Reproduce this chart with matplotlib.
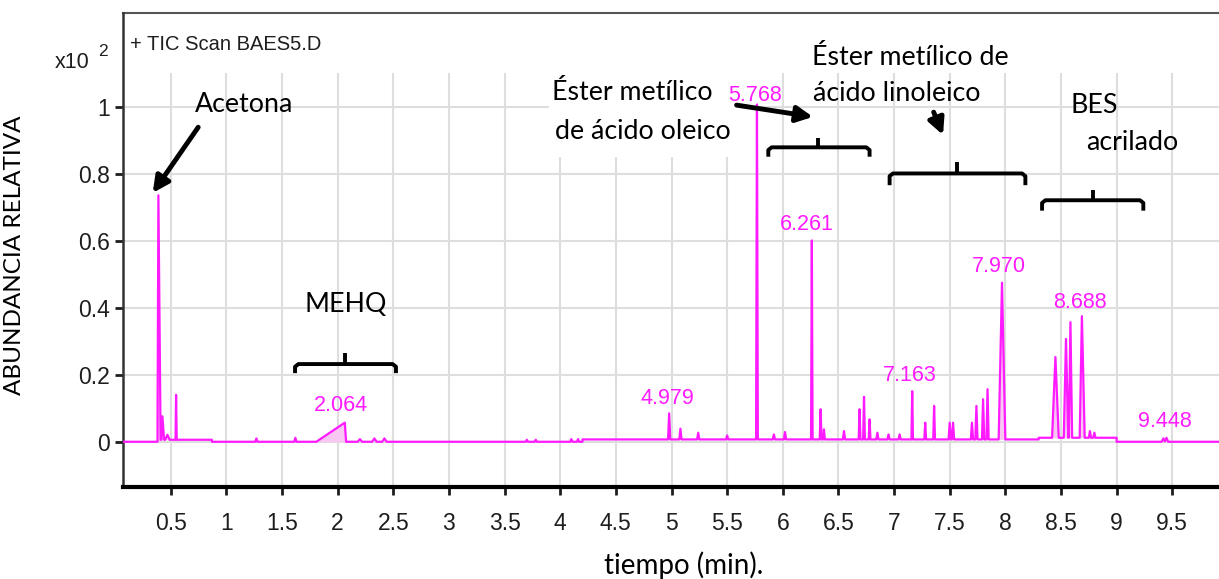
import numpy as np
import matplotlib.pyplot as plt
from matplotlib.patches import Rectangle

plt.rcParams['font.family'] = 'Liberation Sans'

# TIC peaks: retention time (min), abundance (x10^2), left / right half width (min)
peak_rt = [0.389, 0.425, 0.47, 0.548, 1.27, 1.62, 2.064, 2.20, 2.33, 2.42,
           3.70, 3.78, 4.10, 4.16, 4.979, 5.08, 5.24, 5.50, 5.768, 5.92,
           6.02, 6.261, 6.34, 6.37, 6.55, 6.69, 6.73, 6.78, 6.85, 6.95,
           7.05, 7.163, 7.28, 7.36, 7.50, 7.53, 7.70, 7.74, 7.80, 7.84,
           7.970, 8.45, 8.545, 8.585, 8.688, 8.76, 8.80, 9.42, 9.448]
peak_h = [0.736, 0.07, 0.015, 0.134, 0.01, 0.012, 0.057, 0.008, 0.01, 0.01,
          0.006, 0.006, 0.008, 0.008, 0.078, 0.032, 0.02, 0.012, 1.0, 0.015,
          0.022, 0.594, 0.09, 0.03, 0.025, 0.09, 0.127, 0.06, 0.02, 0.015,
          0.015, 0.144, 0.05, 0.1, 0.05, 0.05, 0.05, 0.1, 0.12, 0.15,
          0.468, 0.241, 0.295, 0.345, 0.363, 0.02, 0.015, 0.01, 0.012]
peak_wl = [0.008, 0.01, 0.02, 0.005, 0.01, 0.01, 0.256, 0.02, 0.02, 0.02,
           0.01, 0.01, 0.01, 0.01, 0.01, 0.01, 0.01, 0.01, 0.008, 0.01,
           0.01, 0.007, 0.008, 0.008, 0.01, 0.008, 0.008, 0.008, 0.01, 0.01,
           0.01, 0.007, 0.008, 0.008, 0.01, 0.01, 0.01, 0.01, 0.01, 0.01,
           0.03, 0.03, 0.02, 0.015, 0.02, 0.01, 0.01, 0.015, 0.015]
peak_wr = [0.02, 0.015, 0.02, 0.006, 0.01, 0.01, 0.012, 0.02, 0.02, 0.02,
           0.01, 0.01, 0.01, 0.01, 0.01, 0.01, 0.01, 0.01, 0.008, 0.01,
           0.01, 0.007, 0.008, 0.008, 0.01, 0.008, 0.008, 0.008, 0.01, 0.01,
           0.01, 0.007, 0.008, 0.008, 0.01, 0.01, 0.01, 0.01, 0.01, 0.01,
           0.03, 0.03, 0.02, 0.015, 0.025, 0.01, 0.01, 0.015, 0.015]

# baseline level (step) starting at each time
base_t = [0.0, 0.40, 0.87, 4.20, 8.30, 9.00]
base_v = [0.0, 0.006, 0.0, 0.007, 0.012, 0.0]

# integrated regions (shaded)
integ_start = [0.37, 1.80, 7.93, 8.40]
integ_end = [0.52, 2.09, 8.03, 8.76]

# labelled retention times and where their labels sit
label_rt = [2.064, 4.979, 5.768, 6.261, 7.163, 7.970, 8.688, 9.448]
label_x = [2.03, 4.963, 5.75, 6.217, 7.142, 7.939, 8.67, 9.43]
label_y = [0.107, 0.130, 1.035, 0.649, 0.198, 0.522, 0.417, 0.062]

xmin, xmax = 0.071, 9.92
ymin, ymax = -0.135, 1.28

# build the trace from the peak list
pts = [xmin, xmax]
for rt, wl, wr in zip(peak_rt, peak_wl, peak_wr):
    pts += [rt - wl, rt, rt + wr]
for bt in base_t[1:]:
    pts += [bt - 1e-4, bt]
t = np.unique(pts)
base = np.array(base_v)[np.searchsorted(base_t, t, side='right') - 1]
sig = np.zeros_like(t)
for rt, h, wl, wr in zip(peak_rt, peak_h, peak_wl, peak_wr):
    sig = np.maximum(sig, np.interp(t, [rt - wl, rt, rt + wr], [0, h, 0], left=0, right=0))
y = base + sig

fig = plt.figure(figsize=(12.19, 5.79), dpi=100)
ax = fig.add_axes([123 / 1219, 1 - 487 / 579, 1 - 123 / 1219, 474 / 579])
ax.set_xlim(xmin, xmax)
ax.set_ylim(ymin, ymax)

xt = np.arange(0.5, 9.51, 0.5)
yt = np.arange(0, 1.01, 0.2)
grid_c = '#dedede'
ax.vlines(xt, ymin, 1.1, color=grid_c, lw=1.5, zorder=0.5)
ax.hlines(yt, xmin, xmax, color=grid_c, lw=1.5, zorder=0.5)
ax.add_patch(Rectangle((3.9, 0.85), 1.82, 0.26, color='white', zorder=0.8, lw=0))

mag = '#ff1aff'
for a, b in zip(integ_start, integ_end):
    m = (t >= a) & (t <= b)
    ax.fill_between(t[m], base[m], y[m], color='#f8c8f2', lw=0, zorder=2)
ax.plot(t, y, color=mag, lw=1.6, zorder=3)

for rt, lx, ly in zip(label_rt, label_x, label_y):
    ax.text(lx, ly, '%.3f' % rt, color=mag, fontsize=15.5, ha='center', va='center', zorder=4)

tick_c = '#1e1e1e'
ax.set_xticks(xt)
ax.set_xticklabels(['%g' % v for v in xt])
ax.set_yticks(yt)
ax.set_yticklabels(['0', '0.2', '0.4', '0.6', '0.8', '1'])
ax.tick_params(axis='both', labelsize=16.5, colors=tick_c, width=2, length=6, direction='out')
ax.tick_params(axis='x', pad=12)
for s in ['top', 'right']:
    ax.spines[s].set_visible(False)
ax.spines['left'].set_linewidth(1.8)
ax.spines['bottom'].set_linewidth(3)
ax.spines['left'].set_color('#333333')
ax.plot([xmin, xmax], [ymax, ymax], color='#555555', lw=1.5, clip_on=False)

ax.text(0.0065, 0.9325, '+ TIC Scan BAES5.D', transform=ax.transAxes,
        fontsize=14.5, color=tick_c, va='center')
fig.text(55 / 1219, 1 - 62 / 579, 'x10', fontsize=15.5, color=tick_c, va='center')
fig.text(98 / 1219, 1 - 51 / 579, '2', fontsize=12.5, color=tick_c, va='center')

# annotations
ann = dict(family='Lato', fontsize=19.3, color='black', zorder=5)
ax.text(1.159, 1.008, 'Acetona', ha='center', va='center', **ann)
ax.text(2.076, 0.411, 'MEHQ', ha='center', va='center', **ann)
ax.text(3.93, 1.043, 'Éster metílico', ha='left', va='center', **ann)
ax.text(3.95, 0.927, 'de ácido oleico', ha='left', va='center', **ann)
ax.text(6.261, 1.148, 'Éster metílico de', ha='left', va='center', **ann)
ax.text(6.27, 1.041, 'ácido linoleico', ha='left', va='center', **ann)
ax.text(8.80, 1.003, 'BES', ha='center', va='center', **ann)
ax.text(9.14, 0.893, 'acrilado', ha='center', va='center', **ann)

arrow = dict(arrowstyle='-|>', color='black', lw=3.5, mutation_scale=24,
             shrinkA=0, shrinkB=0)
ax.annotate('', xy=(0.338, 0.743), xytext=(0.747, 0.939), arrowprops=arrow, zorder=5)
ax.annotate('', xy=(6.271, 0.970), xytext=(5.585, 1.005), arrowprops=arrow, zorder=5)
ax.annotate('', xy=(7.44, 0.916), xytext=(7.356, 0.984), arrowprops=arrow, zorder=5)

# brackets: (left, right, centre, line level, end drop, centre rise)
brackets = [(1.617, 2.524, 2.07, 0.232, 0.027, 0.033),
            (5.87, 6.78, 6.32, 0.879, 0.028, 0.027),
            (6.96, 8.18, 7.57, 0.801, 0.035, 0.035),
            (8.33, 9.24, 8.79, 0.721, 0.031, 0.030)]
for l, r, c, lv, d, u in brackets:
    ax.plot([l, l, l + 0.03, r - 0.03, r, r], [lv - d, lv - 0.008, lv, lv, lv - 0.008, lv - d],
            color='black', lw=2.8, solid_capstyle='butt', zorder=5)
    ax.plot([c, c], [lv, lv + u], color='black', lw=2.8, solid_capstyle='butt', zorder=5)

fig.text(15 / 1219, 1 - 255 / 579, 'ABUNDANCIA RELATIVA', rotation=90, family='Lato',
         fontsize=17.5, ha='center', va='center')
fig.text(684 / 1219, 1 - 565 / 579, 'tiempo (min).', family='Lato',
         fontsize=20, ha='center', va='center')

fig.savefig('out.png', dpi=100)
